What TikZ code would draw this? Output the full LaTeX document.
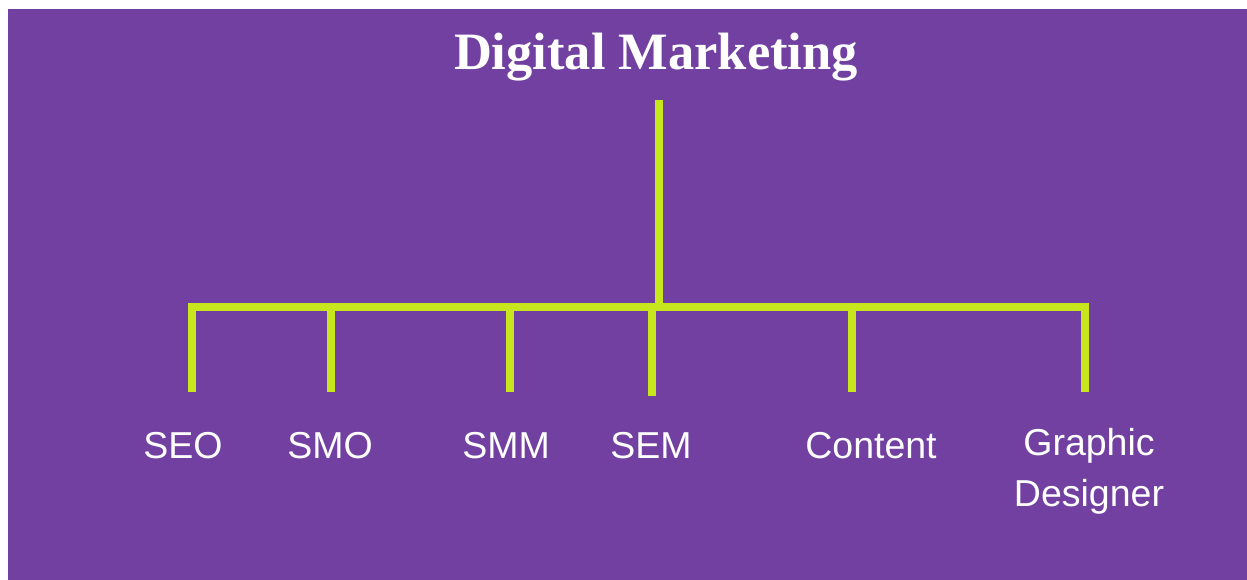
\documentclass[tikz,border=0pt]{standalone}
\usepackage{fontspec}
\setmainfont{Liberation Serif}
\newfontfamily\labelfont{Liberation Sans}
\definecolor{bgpurple}{HTML}{7140A0}
\definecolor{limeline}{HTML}{C8E61E}
\begin{document}
\begin{tikzpicture}[x=1pt,y=-1pt,
  conn/.style={draw=limeline,line width=8pt},
  lbl/.style={text=white,font=\labelfont\fontsize{37.5}{52}\selectfont,anchor=base,inner sep=0pt,align=center},
  ttl/.style={text=white,font=\bfseries\fontsize{52.5}{60}\selectfont,anchor=base,inner sep=0pt}]
\useasboundingbox (0,0) rectangle (1247,580);
\fill[white] (0,0) rectangle (1247,580);
\fill[bgpurple] (8,9) rectangle (1247,580);
\node[ttl] (title) at (656,70) {Digital Marketing};
\coordinate (top) at (659,100);
\coordinate (mid) at (659,307);
\coordinate (bl) at (192,307);
\coordinate (br) at (1085,307);
\coordinate (seo) at (192,392);
\coordinate (gd) at (1085,392);
\coordinate (smoT) at (331,307);
\coordinate (smoB) at (331,392);
\coordinate (smmT) at (510,307);
\coordinate (smmB) at (510,392);
\coordinate (semT) at (652,307);
\coordinate (semB) at (652,396);
\coordinate (conT) at (852,307);
\coordinate (conB) at (852,392);
\draw[conn] (top) -- (mid);
\draw[conn] (seo) -- (bl) -- (br) -- (gd);
\draw[conn] (smoT) -- (smoB);
\draw[conn] (smmT) -- (smmB);
\draw[conn] (semT) -- (semB);
\draw[conn] (conT) -- (conB);
\node[lbl] (l1) at (183,458) {SEO};
\node[lbl] (l2) at (330,458) {SMO};
\node[lbl] (l3) at (506,458) {SMM};
\node[lbl] (l4) at (651,458) {SEM};
\node[lbl] (l5) at (871,458) {Content};
\node[lbl] (l6a) at (1089,455) {Graphic};
\node[lbl] (l6b) at (1089,506) {Designer};
\end{tikzpicture}
\end{document}
